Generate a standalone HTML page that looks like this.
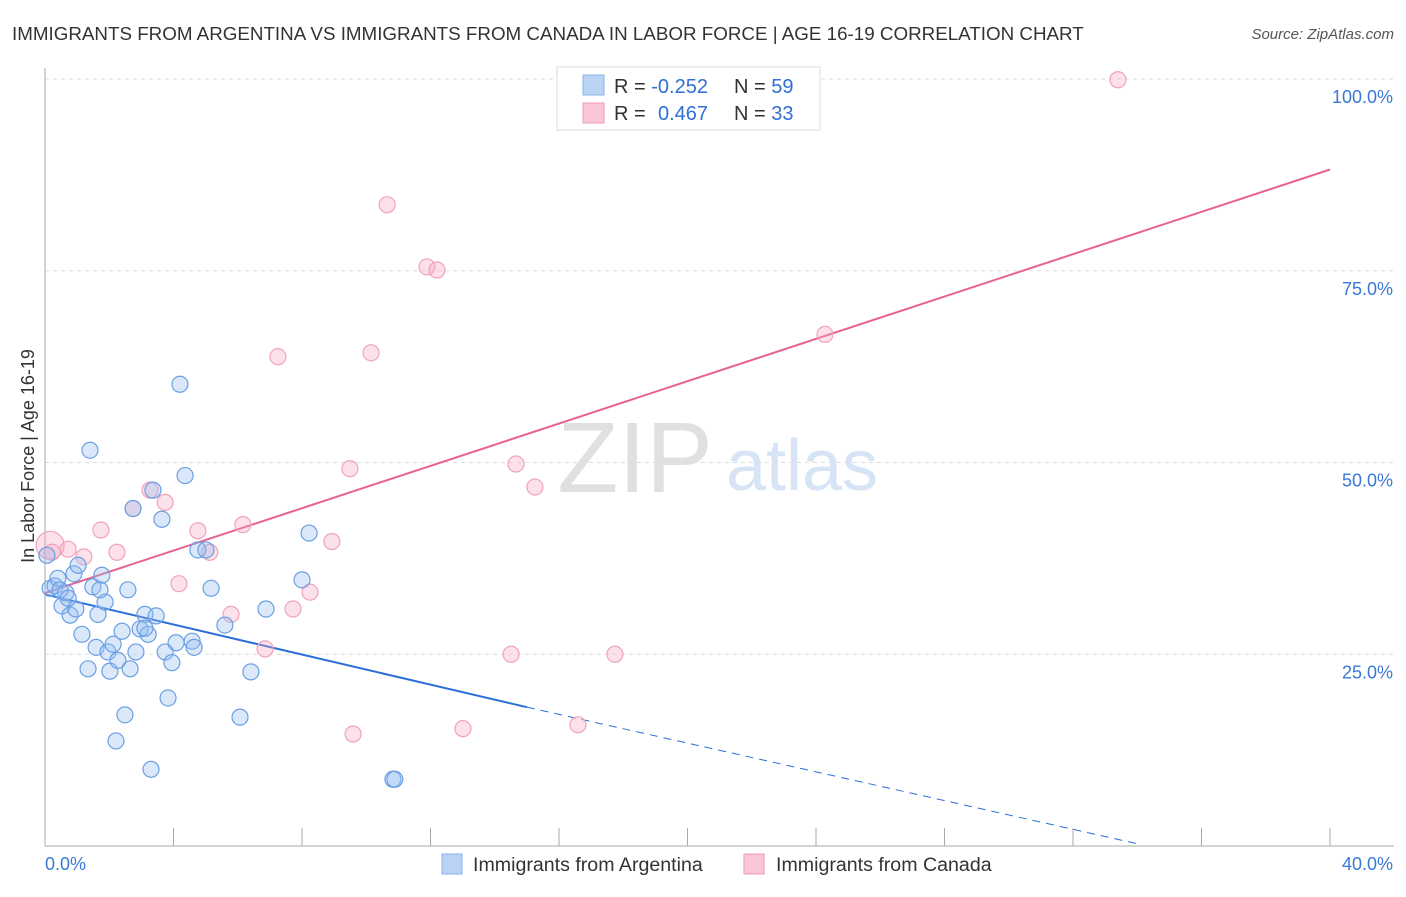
<!DOCTYPE html>
<html><head><meta charset="utf-8">
<style>
body{margin:0;background:#fff;font-family:"Liberation Sans",sans-serif;}
svg text{font-family:"Liberation Sans",sans-serif;}
</style></head>
<body>
<svg id="chart" width="1406" height="892" xmlns="http://www.w3.org/2000/svg">
<text x="12" y="40" font-size="18.8" fill="#333">IMMIGRANTS FROM ARGENTINA VS IMMIGRANTS FROM CANADA IN LABOR FORCE | AGE 16-19 CORRELATION CHART</text>
<text x="1394" y="39" font-size="15" fill="#555" font-style="italic" text-anchor="end">Source: ZipAtlas.com</text>
<text x="635" y="492" font-size="100" fill="#e0e0e0" font-family="Liberation Serif" text-anchor="middle">ZIP</text>
<text x="802" y="490" font-size="72" fill="#d6e4f5" text-anchor="middle">atlas</text>
<g id="grid"></g>
<g id="axes"></g>
<g id="lines"></g>
<g id="points"></g>
<text transform="translate(34,456) rotate(-90)" font-size="18" fill="#333" text-anchor="middle">In Labor Force | Age 16-19</text>
<g>
<rect x="557" y="67" width="263" height="63" fill="#fff" stroke="#ddd"/>
<rect x="583" y="75" width="21" height="20" fill="#b9d3f5" stroke="#8ab3ea"/>
<rect x="583" y="103" width="21" height="20" fill="#f9c6d5" stroke="#f19bb5"/>
<text x="614" y="93" font-size="20" fill="#333">R = <tspan fill="#2f6fd6">-0.252</tspan></text>
<text x="734" y="93" font-size="20" fill="#333">N = <tspan fill="#2f6fd6">59</tspan></text>
<text x="614" y="120" font-size="20" fill="#333">R = <tspan fill="#2f6fd6" x="658">0.467</tspan></text>
<text x="734" y="120" font-size="20" fill="#333">N = <tspan fill="#2f6fd6">33</tspan></text>
</g>
<g>
<rect x="442" y="854" width="20" height="20" fill="#b9d3f5" stroke="#8ab3ea"/>
<text x="473" y="871" font-size="19.6" fill="#333">Immigrants from Argentina</text>
<rect x="744" y="854" width="20" height="20" fill="#f9c6d5" stroke="#f19bb5"/>
<text x="776" y="871" font-size="19.6" fill="#333">Immigrants from Canada</text>
</g>
</svg>
<script>
const yTicks=[25,50,75,100];
const yTickLabels=["25.0%","50.0%","75.0%","100.0%"];
const xTickCount=[0,4,8,12,16,20,24,28,32,36,40];
const blueX=[0.06,0.16,0.31,0.4,0.53,0.65,0.78,0.9,0.96,1.03,1.15,1.34,1.4,1.49,1.59,1.65,1.77,1.87,1.96,2.02,2.12,2.27,2.4,2.49,2.21,2.58,2.65,2.74,2.83,2.96,3.11,3.21,3.3,3.36,3.46,3.64,3.74,3.83,3.95,4.08,4.2,4.36,4.58,4.64,4.76,5.01,5.17,5.6,6.07,6.41,6.88,8.0,8.22,10.83,10.89,3.11,1.71,0.47,0.72];
const blueY=[37.9,33.6,33.9,34.9,31.3,33.0,30.1,35.5,30.9,36.6,27.6,23.1,51.6,33.8,25.9,30.2,35.3,31.8,25.3,22.8,26.3,24.2,28.0,17.1,13.7,33.4,23.1,44.0,25.3,28.3,30.2,27.6,10.0,46.4,30.0,42.6,25.3,19.3,23.9,26.5,60.2,48.3,26.7,25.9,38.6,38.6,33.6,28.8,16.8,22.7,30.9,34.7,40.8,8.7,8.7,28.4,33.4,33.4,32.3];
const pinkX=[0.16,0.22,0.72,1.21,1.74,2.24,2.74,3.27,3.74,4.17,4.76,5.13,5.79,6.16,6.85,7.25,7.72,8.25,8.93,9.49,9.59,10.15,10.65,11.89,12.2,13.01,14.51,14.66,15.25,16.59,17.74,24.28,33.4,20.7];
const pinkY=[39.2,38.3,38.7,37.7,41.2,38.3,44.0,46.4,44.8,34.2,41.1,38.3,30.2,41.9,25.7,63.8,30.9,33.1,39.7,49.2,14.6,64.3,83.6,75.5,75.1,15.3,25.0,49.8,46.8,15.8,25.0,66.7,99.9,99.9];
const blueLine=[[0,32.8],[15,18.1]];
const blueDash=[[15,18.1],[34,0.3]];
const pinkLine=[[0,33.0],[40,88.2]];
const NS="http://www.w3.org/2000/svg";
const xs=v=>45+v/40*1285;
const ys=v=>846-v/100*767;
function mk(tag,attrs,parent){const e=document.createElementNS(NS,tag);for(const k in attrs)e.setAttribute(k,attrs[k]);document.getElementById(parent).appendChild(e);return e;}
yTicks.forEach((t,i)=>{
 const g=mk('line',{x1:45,x2:1394,y1:ys(t),y2:ys(t),stroke:'#ddd','stroke-dasharray':'4,4'},'grid');
 
 
 const l=mk('text',{x:1393,y:ys(t)+24,'font-size':18,fill:'#3a78d8','text-anchor':'end'},'axes');
 l.textContent=yTickLabels[i];
 
 
});
mk('line',{x1:45,x2:45,y1:68,y2:846,stroke:'#aaa'},'axes');
mk('line',{x1:45,x2:1394,y1:846,y2:846,stroke:'#aaa'},'axes');
xTickCount.forEach(t=>{const e=mk('line',{x1:xs(t),x2:xs(t),y1:828,y2:846,stroke:'#aaa'},'axes');
 
 });
const x0=mk('text',{x:45,y:870,'font-size':18,fill:'#3a78d8'},'axes');x0.textContent='0.0%';


const x1=mk('text',{x:1393,y:870,'font-size':18,fill:'#3a78d8','text-anchor':'end'},'axes');x1.textContent='40.0%';


pinkX.forEach((x,i)=>{const c=mk('circle',{cx:xs(x),cy:ys(pinkY[i]),r:i===0?14:8,fill:'rgba(245,170,195,0.35)',stroke:'#f0a3bb','stroke-width':1.2},'points');
 
 });
blueX.forEach((x,i)=>{const c=mk('circle',{cx:xs(x),cy:ys(blueY[i]),r:8,fill:'rgba(150,190,240,0.35)',stroke:'#6a9fe3','stroke-width':1.2},'points');
 
 });
const bl=mk('line',{x1:xs(blueLine[0][0]),y1:ys(blueLine[0][1]),x2:xs(blueLine[1][0]),y2:ys(blueLine[1][1]),stroke:'#2a6fd8','stroke-width':2},'lines');


const bd=mk('line',{x1:xs(blueDash[0][0]),y1:ys(blueDash[0][1]),x2:xs(blueDash[1][0]),y2:ys(blueDash[1][1]),stroke:'#2a6fd8','stroke-width':1,'stroke-dasharray':'8,6'},'lines');


const pl=mk('line',{x1:xs(pinkLine[0][0]),y1:ys(pinkLine[0][1]),x2:xs(pinkLine[1][0]),y2:ys(pinkLine[1][1]),stroke:'#e8628f','stroke-width':2},'lines');


</script>
</body></html>
